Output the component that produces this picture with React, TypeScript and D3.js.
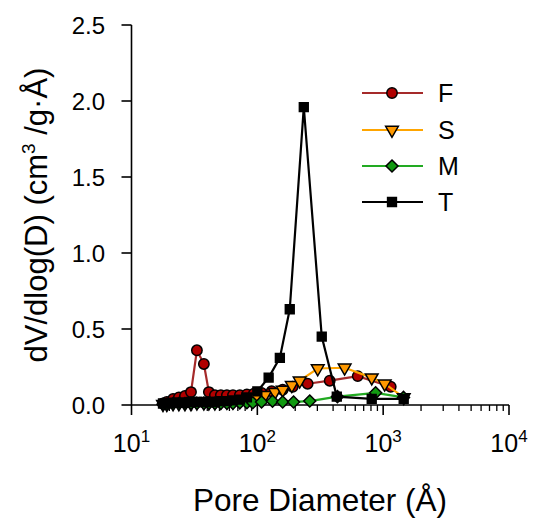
import React from 'react';
import * as d3 from 'd3';

const fD = [17.8,19.1,21.4,23.8,26.6,29.7,33.1,37.6,41.2,46,51.3,57.3,64,72.6,82.6,93.8,108,130,159,191,251,376,628,1148];
const fV = [0.01,0.02,0.04,0.05,0.06,0.085,0.36,0.27,0.085,0.065,0.065,0.065,0.065,0.065,0.07,0.075,0.08,0.09,0.1,0.12,0.14,0.16,0.19,0.12];

const sD = [17.8,19.1,21.4,23.8,26.6,29.7,33.1,37.6,41.2,46,51.3,57.3,64,72.6,82.6,96,115,138,159,188,217,302,494,811,1028,1456];
const sV = [0.005,0.005,0.01,0.01,0.01,0.01,0.015,0.015,0.015,0.015,0.02,0.02,0.02,0.025,0.03,0.045,0.065,0.085,0.1,0.13,0.16,0.24,0.245,0.18,0.14,0.05];

const mD = [17.8,19.1,21.4,23.8,26.6,29.7,33.1,37.6,41.2,46,51.3,57.3,64,72.6,82.6,92,108,132,159,194,261,433,871,1450];
const mV = [0.005,0.005,0.01,0.01,0.01,0.012,0.012,0.012,0.012,0.012,0.012,0.012,0.012,0.015,0.015,0.015,0.02,0.025,0.02,0.02,0.026,0.055,0.08,0.05];

const tD = [17.8,19.1,21.4,23.8,26.6,29.7,33.1,37.6,41.2,46,51.3,57.3,64,72.6,82.6,100,123,151,181,234,325,428,811,1456];
const tV = [0.01,0.01,0.015,0.015,0.015,0.02,0.02,0.02,0.02,0.02,0.025,0.025,0.03,0.035,0.05,0.09,0.18,0.31,0.63,1.96,0.45,0.055,0.04,0.04];

const seriesNames = ['F', 'S', 'M', 'T'];
const yTicks = [0, 0.5, 1.0, 1.5, 2.0, 2.5];
const xTickExps = [1, 2, 3, 4];

const FONT = 'Arial, "Liberation Sans", Helvetica, sans-serif';

const x = d3.scaleLog().domain([10, 10000]).range([131.5, 509]);
const y = d3.scaleLinear().domain([0, 2.5]).range([405, 25]);

type Series = { name: string; D: number[]; V: number[]; line: string; fill: string; shape: string };

const series: Series[] = [
  { name: seriesNames[0], D: fD, V: fV, line: '#a52a2a', fill: '#b00000', shape: 'circle' },
  { name: seriesNames[1], D: sD, V: sV, line: '#ffa500', fill: '#ff9900', shape: 'tri' },
  { name: seriesNames[2], D: mD, V: mV, line: '#22aa22', fill: '#119911', shape: 'diamond' },
  { name: seriesNames[3], D: tD, V: tV, line: '#000000', fill: '#000000', shape: 'square' },
];

function markerPath(shape: string): string {
  if (shape === 'circle') return d3.symbol(d3.symbolCircle, 85)() as string;
  if (shape === 'tri') return d3.symbol(d3.symbolTriangle, 70)() as string;
  if (shape === 'diamond') return 'M0,-6L6,0L0,6L-6,0Z';
  return d3.symbol(d3.symbolSquare, 78)() as string;
}

function Marker({ cx, cy, s }: { cx: number; cy: number; s: Series }) {
  const rot = s.shape === 'tri' ? ' rotate(180)' : '';
  return (
    <path
      d={markerPath(s.shape)}
      transform={`translate(${cx},${cy})${rot}`}
      fill={s.fill}
      stroke="#000"
      strokeWidth={1.5}
    />
  );
}

export default function App() {
  const line = d3
    .line<[number, number]>()
    .x((d) => x(d[0]))
    .y((d) => y(d[1]));

  const minor: number[] = [];
  [10, 100, 1000].forEach((dec) => {
    for (let k = 2; k <= 9; k++) minor.push(dec * k);
  });

  const legendY = [93, 130, 166, 202];

  return (
    <svg
      width={536}
      height={521}
      style={{ position: 'absolute', left: 0, top: 0, background: '#fff' }}
      fontFamily={FONT}
    >
      <rect x={0} y={0} width={536} height={521} fill="#fff" />
      {/* axes */}
      <line x1={x(10)} x2={x(10)} y1={y(2.5)} y2={y(0)} stroke="#000" strokeWidth={1.6} />
      <line x1={x(10)} x2={x(10000)} y1={y(0)} y2={y(0)} stroke="#000" strokeWidth={1.6} />
      {yTicks.map((t) => (
        <g key={'y' + t}>
          <line x1={x(10) - 10} x2={x(10)} y1={y(t)} y2={y(t)} stroke="#000" strokeWidth={1.6} />
          <text x={105} y={y(t) + 8.5} fontSize={24} textAnchor="end" fill="#000">
            {t.toFixed(1)}
          </text>
        </g>
      ))}
      {xTickExps.map((e) => (
        <g key={'x' + e}>
          <line x1={x(10 ** e)} x2={x(10 ** e)} y1={y(0)} y2={y(0) + 10} stroke="#000" strokeWidth={1.6} />
          <text x={x(10 ** e)} y={452} fontSize={25} textAnchor="middle" fill="#000">
            10
            <tspan fontSize={17} dy={-10}>
              {e}
            </tspan>
          </text>
        </g>
      ))}
      {minor.map((m) => (
        <line key={'m' + m} x1={x(m)} x2={x(m)} y1={y(0)} y2={y(0) + 6} stroke="#000" strokeWidth={1.3} />
      ))}
      <text x={320} y={511} fontSize={31.5} textAnchor="middle" fill="#000">
        Pore Diameter (Å)
      </text>
      <text
        transform="translate(47,215) rotate(-90)"
        fontSize={31}
        textAnchor="middle"
        fill="#000"
      >
        dV/dlog(D) (cm
        <tspan fontSize={19} dy={-12}>3</tspan>
        <tspan dy={12}> /g·Å)</tspan>
      </text>

      {/* series */}
      {series.map((s) => {
        const pts = s.D.map((d, i) => [d, s.V[i]] as [number, number]);
        return (
          <g key={s.name}>
            <path d={line(pts) as string} fill="none" stroke={s.line} strokeWidth={2.2} />
            {pts.map((p, i) => (
              <Marker key={i} cx={x(p[0])} cy={y(p[1])} s={s} />
            ))}
          </g>
        );
      })}

      {/* legend */}
      {series.map((s, i) => (
        <g key={'leg' + s.name}>
          <line x1={362} x2={423} y1={legendY[i]} y2={legendY[i]} stroke={s.line} strokeWidth={2.2} />
          <Marker cx={392} cy={legendY[i]} s={s} />
          <text x={438} y={legendY[i] + 9} fontSize={25} fill="#000">
            {s.name}
          </text>
        </g>
      ))}
    </svg>
  );
}
